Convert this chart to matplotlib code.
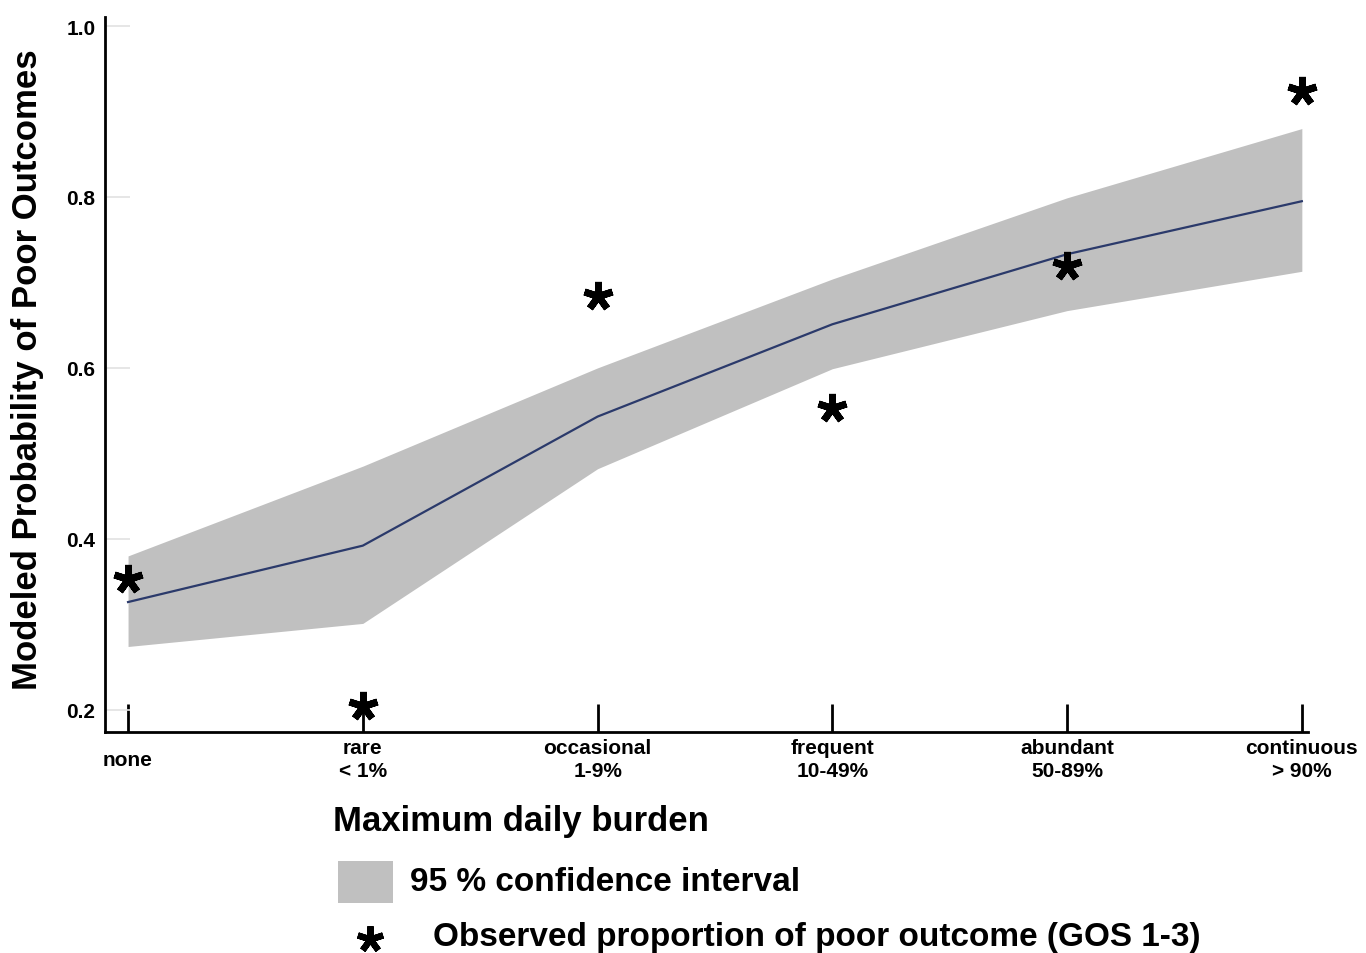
import matplotlib.pyplot as plt
from matplotlib.patches import Rectangle

plt.rcParams['font.family'] = ['Liberation Sans', 'DejaVu Sans']
plt.rcParams['font.weight'] = 'bold'

# Categorias do eixo x
categorias = ['none', 'rare\n< 1%', 'occasional\n1-9%', 'frequent\n10-49%',
              'abundant\n50-89%', 'continuous\n> 90%']

# Probabilidade modelada e intervalo de confiança
modelado = [0.326, 0.392, 0.543, 0.651, 0.733, 0.795]
ic_superior = [0.380, 0.485, 0.600, 0.704, 0.799, 0.880]
ic_inferior = [0.274, 0.301, 0.482, 0.599, 0.667, 0.713]

# Proporção observada de desfecho ruim
observado = [0.353, 0.204, 0.684, 0.553, 0.719, 0.924]

y_ticks = [0.2, 0.4, 0.6, 0.8, 1.0]

fig = plt.figure(figsize=(13.66, 9.54), dpi=100)
ax = fig.add_axes([0.0769, 0.2317, 0.8806, 0.7494])

x = list(range(len(categorias)))
ax.fill_between(x, ic_inferior, ic_superior, color='#c0c0c0', linewidth=0, zorder=1)
ax.plot(x, modelado, color='#2b3a6b', linewidth=1.6, zorder=2)

asterisco = (5, 2, 0)
ax.plot(x, observado, linestyle='none', marker=asterisco, markersize=21,
        markeredgewidth=5, color='black', zorder=3, clip_on=False)

ax.set_xlim(-0.098, 5.026)
ax.set_ylim(0.174, 1.0105)

for lado in ['top', 'right']:
    ax.spines[lado].set_visible(False)
for lado in ['left', 'bottom']:
    ax.spines[lado].set_linewidth(2)

ax.set_xticks(x)
ax.set_xticklabels(categorias, fontsize=15, fontweight='bold', va='center', linespacing=1.3)
ax.tick_params(axis='x', direction='in', length=20, width=2, pad=19.5)

ax.set_yticks(y_ticks)
ax.set_yticklabels(['{:.1f}'.format(v) for v in y_ticks], fontsize=15, fontweight='bold')
ax.tick_params(axis='y', direction='in', length=18, width=1.2, color='#e2e2e2', pad=7)

fig.text(28 / 1366, (954 - 370) / 954, 'Modeled Probability of Poor Outcomes',
         rotation=90, ha='center', va='center', fontsize=25, fontweight='bold')
fig.text(333 / 1366, (954 - 822) / 954, 'Maximum daily burden',
         ha='left', va='center', fontsize=25, fontweight='bold')

# Legenda manual
fig.patches.append(Rectangle((338 / 1366, (954 - 904) / 954), 55 / 1366, 42 / 954,
                             transform=fig.transFigure, facecolor='#c0c0c0',
                             edgecolor='none'))
fig.text(410 / 1366, (954 - 883) / 954, '95 % confidence interval',
         ha='left', va='center', fontsize=24, fontweight='bold')
fig.lines.append(plt.Line2D([370 / 1366], [(954 - 940) / 954], transform=fig.transFigure,
                            linestyle='none', marker=asterisco, markersize=19,
                            markeredgewidth=4.5, color='black'))
fig.text(433 / 1366, (954 - 938) / 954, 'Observed proportion of poor outcome (GOS 1-3)',
         ha='left', va='center', fontsize=24, fontweight='bold')

fig.savefig('out.png', dpi=100)
